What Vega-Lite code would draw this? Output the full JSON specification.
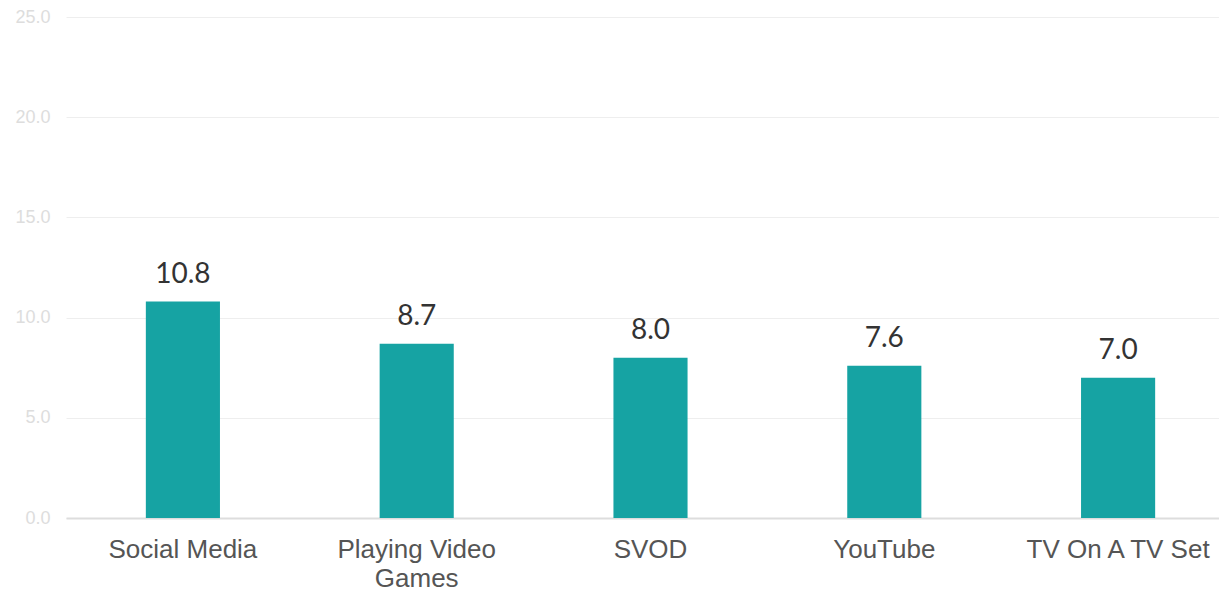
{
  "$schema": "https://vega.github.io/schema/vega-lite/v6.json",
  "autosize": "none",
  "width": 1169,
  "height": 501,
  "padding": {"left": 66, "top": 17, "right": 0, "bottom": 74},
  "background": "white",
  "config": {"view": {"stroke": null}},
  "data": {"values": [
    {"activity": "Social Media", "value": 10.8},
    {"activity": "Playing Video Games", "value": 8.7},
    {"activity": "SVOD", "value": 8.0},
    {"activity": "YouTube", "value": 7.6},
    {"activity": "TV On A TV Set", "value": 7.0}
  ]},
  "encoding": {
    "x": {"field": "activity", "type": "nominal", "sort": null, "title": null,
      "scale": {"paddingInner": 0, "paddingOuter": 0},
      "axis": {"labelAngle": 0, "labelFont": "Liberation Sans", "labelFontSize": 26, "labelColor": "#555555",
        "labelPadding": 18, "labelLineHeight": 29, "labelLimit": 400, "ticks": false, "domainColor": "#dddddd", "domainWidth": 2,
        "labelExpr": "datum.value == 'Playing Video Games' ? ['Playing Video', 'Games'] : datum.value"}},
    "y": {"field": "value", "type": "quantitative", "title": null,
      "scale": {"domain": [0, 25]},
      "axis": {"values": [0, 5, 10, 15, 20, 25], "format": ".1f", "domain": false, "ticks": false,
        "labelFont": "Liberation Sans", "labelFontSize": 18, "labelColor": "#dddddd", "labelPadding": 16,
        "gridColor": "#eeeeee", "gridWidth": 1}}
  },
  "layer": [
    {"mark": {"type": "bar", "color": "#16a3a3", "width": {"band": 0.317}}},
    {"mark": {"type": "text", "baseline": "alphabetic", "dy": -19, "fontSize": 28, "font": "Lato", "color": "#333333"},
      "encoding": {"text": {"field": "value", "type": "quantitative", "format": ".1f"}}}
  ]
}
